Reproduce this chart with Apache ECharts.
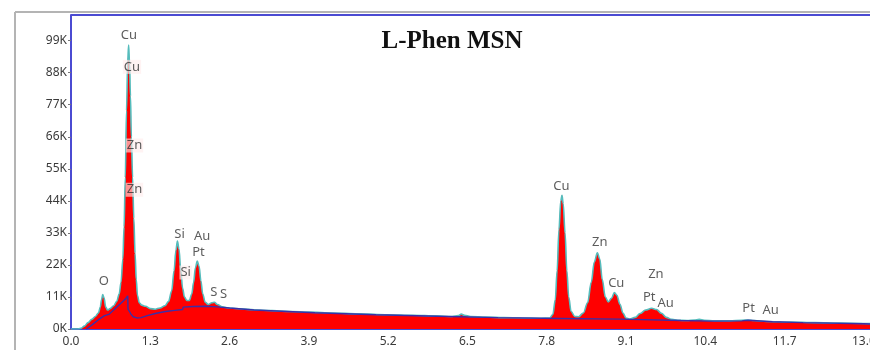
<!DOCTYPE html>
<html>
<head>
<meta charset="utf-8">
<script src="https://cdn.jsdelivr.net/npm/echarts@6/dist/echarts.min.js"></script>
<style>
  html, body { margin: 0; padding: 0; background: #fff; }
  #chart { width: 870px; height: 350px; }
</style>
</head>
<body>
<div id="chart"></div>
<script>
// EDS spectrum: energy (keV) and counts (thousands)
const energy = [
  0.00, 0.10, 0.16, 0.22, 0.28, 0.34, 0.40, 0.45, 0.48, 0.50, 0.52, 0.54, 0.57, 0.60, 0.64, 0.70, 0.75, 0.79,
  0.82, 0.85, 0.87, 0.89, 0.91, 0.93, 0.945, 0.96, 0.975, 0.99, 1.01, 1.03, 1.05, 1.07, 1.09, 1.12, 1.16, 1.22,
  1.30, 1.38, 1.46, 1.54, 1.60, 1.65, 1.69, 1.72, 1.745, 1.77, 1.80, 1.83, 1.86, 1.90, 1.94, 1.98, 2.01, 2.04,
  2.07, 2.10, 2.13, 2.16, 2.20, 2.25, 2.31, 2.35, 2.40, 2.48, 2.60, 2.80, 3.00, 3.30, 3.60, 3.90, 4.30, 4.70,
  5.20, 5.60, 6.00, 6.25, 6.35, 6.40, 6.45, 6.55, 6.80, 7.10, 7.40, 7.70, 7.85, 7.90, 7.94, 7.97, 8.00, 8.03,
  8.05, 8.07, 8.10, 8.13, 8.16, 8.20, 8.26, 8.32, 8.40, 8.47, 8.53, 8.58, 8.63, 8.67, 8.71, 8.76, 8.81, 8.86,
  8.91, 8.95, 9.00, 9.05, 9.10, 9.16, 9.25, 9.33, 9.42, 9.52, 9.60, 9.68, 9.76, 9.85, 9.95, 10.10, 10.22, 10.30,
  10.38, 10.55, 10.80, 11.00, 11.10, 11.20, 11.40, 11.80, 12.20, 12.60, 13.00, 13.15
];
const counts = [
  0.0, 0.0, 0.2, 1.0, 2.2, 3.3, 4.3, 5.5, 7.5, 10.0, 11.8, 10.8, 7.5, 6.5, 7.0, 8.0, 9.5, 12.0,
  16.0, 24.0, 35.0, 52.0, 75.0, 92.0, 97.5, 91.0, 80.0, 66.0, 52.0, 38.0, 26.0, 17.0, 11.5, 9.0, 8.2, 7.8,
  7.0, 6.8, 7.2, 8.0, 9.5, 13.0, 20.0, 27.0, 30.2, 27.5, 20.0, 14.0, 11.0, 9.8, 9.8, 12.0, 16.0, 21.0,
  23.3, 21.5, 16.5, 12.0, 9.2, 8.4, 9.0, 9.2, 8.4, 7.6, 7.2, 6.9, 6.6, 6.3, 6.0, 5.8, 5.5, 5.2,
  4.9, 4.7, 4.5, 4.3, 4.6, 5.1, 4.7, 4.3, 4.1, 3.9, 3.8, 3.7, 3.8, 5.0, 10.0, 20.0, 34.0, 44.0,
  45.9, 43.0, 33.0, 20.0, 11.0, 6.0, 4.3, 4.2, 5.5, 9.0, 16.0, 23.0, 26.2, 24.0, 17.0, 11.0, 9.3, 10.5,
  12.5, 11.6, 8.5, 5.5, 3.8, 3.4, 4.0, 5.3, 6.5, 7.1, 6.7, 5.4, 4.0, 3.3, 3.0, 2.9, 3.1, 3.3,
  3.0, 2.8, 2.8, 3.0, 3.1, 2.9, 2.6, 2.4, 2.2, 2.0, 1.9, 1.8
];

// Fitted background (thousands of counts)
const bgEnergy = [
  0.25, 0.35, 0.45, 0.55, 0.58, 0.62, 0.70, 0.80, 0.90, 0.93, 0.935, 0.96, 0.98, 1.00, 1.02, 1.05, 1.08, 1.15,
  1.25, 1.40, 1.55, 1.70, 1.83, 1.84, 2.00, 2.20, 2.40, 2.60, 3.00, 4.00, 5.00, 6.00, 7.00, 8.00, 9.00, 10.00,
  10.50, 11.00, 11.10, 11.50, 12.00, 13.00, 13.15
];
const bgCounts = [
  0.0, 1.5, 3.2, 4.6, 4.2, 5.0, 6.5, 8.5, 10.5, 11.4, 6.8, 6.0, 5.2, 5.8, 4.2, 4.6, 3.8, 3.9,
  4.6, 5.4, 6.0, 6.4, 6.7, 7.5, 7.7, 7.8, 7.6, 7.2, 6.5, 5.6, 4.9, 4.4, 3.9, 3.6, 3.4, 2.9,
  2.7, 2.8, 3.0, 2.5, 2.2, 1.8, 1.7
];

// Element markers: name, energy position, height (thousands), boxed
const markNames = ['Cu', 'Cu', 'Zn', 'Zn', 'O', 'Si', 'Au', 'Pt', 'Si', 'S', 'S',
                   'Cu', 'Zn', 'Cu', 'Zn', 'Pt', 'Au', 'Pt', 'Au'];
const markX = [0.95, 1.00, 1.04, 1.04, 0.54, 1.78, 2.15, 2.09, 1.88, 2.34, 2.50,
               8.04, 8.67, 8.94, 9.59, 9.48, 9.75, 11.11, 11.47];
const markY = [100.8, 90.0, 63.0, 47.8, 16.5, 32.5, 31.9, 26.4, 19.4, 12.7, 12.0,
               49.0, 29.6, 15.6, 18.8, 10.8, 8.8, 7.2, 6.5];
const markBoxed = [false, true, true, true, false, false, false, false, true, false, false,
                   false, false, false, false, false, false, false, false];

// Axis ticks
const xTickStep = 1.3;
const yTickStep = 11;

const chart = echarts.init(document.getElementById('chart'), null, { renderer: 'canvas' });

const spectrum = energy.map((e, i) => [e, counts[i]]);
const background = bgEnergy.map((e, i) => [e, bgCounts[i]]);
const markers = markNames.map((n, i) => ({
  value: [markX[i], markY[i]],
  name: n,
  label: markBoxed[i]
    ? { backgroundColor: 'rgba(255,236,236,0.78)', padding: [1, 1, 0, 1] }
    : {}
}));

const axisBlue = '#4b4bd2';
const textColor = '#3a3a3a';
const font = 'Noto Sans';

chart.setOption({
  animation: false,
  backgroundColor: '#ffffff',
  title: {
    text: 'L-Phen MSN',
    left: 447,
    top: 24,
    textAlign: 'center',
    textStyle: {
      fontFamily: 'Liberation Serif',
      fontWeight: 'bold',
      fontSize: 25,
      color: '#111'
    }
  },
  grid: { left: 71, right: 0, top: 15, bottom: 21, outerBoundsMode: 'none', containLabel: false },
  xAxis: {
    type: 'value',
    min: 0,
    max: 13.1,
    interval: xTickStep,
    axisLine: { show: true, lineStyle: { color: axisBlue, width: 2 } },
    axisTick: { show: false },
    splitLine: { show: false },
    axisLabel: {
      showMaxLabel: false,
      hideOverlap: false,
      color: textColor,
      fontFamily: font,
      fontSize: 12,
      margin: 7,
      formatter: v => v.toFixed(1)
    }
  },
  yAxis: {
    type: 'value',
    min: 0,
    max: 107.8,
    interval: yTickStep,
    axisLine: { show: true, lineStyle: { color: axisBlue, width: 2 } },
    axisTick: { show: true, length: 3, lineStyle: { color: '#777' } },
    splitLine: { show: false },
    axisLabel: {
      showMaxLabel: false,
      color: textColor,
      fontFamily: font,
      fontSize: 12,
      margin: 4,
      formatter: v => Math.round(v) + 'K'
    }
  },
  graphic: [
    // outer frame
    { type: 'line', shape: { x1: 15, y1: 12, x2: 870, y2: 12 }, style: { stroke: '#b4b4b4', lineWidth: 2 } },
    { type: 'line', shape: { x1: 15, y1: 12, x2: 15, y2: 350 }, style: { stroke: '#b4b4b4', lineWidth: 2 } },
    // top edge of plot area
    { type: 'line', shape: { x1: 71, y1: 15, x2: 870, y2: 15 }, style: { stroke: axisBlue, lineWidth: 2 } }
  ],
  series: [
    {
      name: 'spectrum',
      type: 'line',
      data: spectrum,
      symbol: 'none',
      smooth: 0.35,
      smoothMonotone: 'x',
      lineStyle: { color: '#55bcbc', width: 1.6 },
      areaStyle: { color: '#ff0000', opacity: 1 },
      z: 2
    },
    {
      name: 'background',
      type: 'line',
      data: background,
      symbol: 'none',
      lineStyle: { color: '#3b2fa8', width: 1.4 },
      z: 3
    },
    {
      name: 'markers',
      type: 'scatter',
      data: markers,
      symbolSize: 0,
      z: 5,
      label: {
        show: true,
        position: 'inside',
        formatter: p => p.name,
        color: '#333',
        fontFamily: font,
        fontSize: 13
      }
    }
  ]
});
</script>
</body>
</html>
